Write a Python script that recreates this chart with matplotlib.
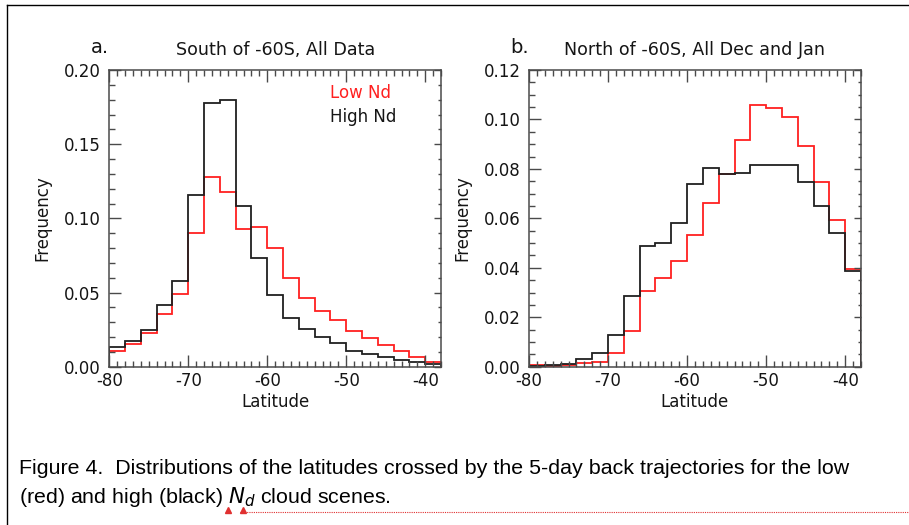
import numpy as np
import matplotlib
matplotlib.use("Agg")
import matplotlib.pyplot as plt
from matplotlib.ticker import MultipleLocator, FormatStrFormatter
from matplotlib.lines import Line2D
from matplotlib import font_manager

# ---------------- data ----------------
bin_edges = list(range(-80, -36, 2))   # 2-degree latitude bins, -80 .. -38

a_low_nd = [0.0108, 0.0153, 0.0225, 0.0356, 0.0491, 0.090, 0.128, 0.118, 0.0926, 0.0944,
            0.080, 0.0599, 0.0464, 0.0374, 0.0315, 0.0239, 0.0191, 0.0146, 0.0104, 0.0063, 0.0029]
a_high_nd = [0.0135, 0.0171, 0.0248, 0.0417, 0.0581, 0.116, 0.178, 0.180, 0.1086, 0.073,
             0.0484, 0.0329, 0.0255, 0.020, 0.0158, 0.0108, 0.0086, 0.0068, 0.0045, 0.0029, 0.0018]

b_low_nd = [0.0005, 0.0004, 0.0008, 0.0014, 0.0020, 0.0055, 0.0143, 0.0308, 0.0359, 0.0426,
            0.0531, 0.0661, 0.0778, 0.0915, 0.106, 0.1047, 0.1011, 0.0892, 0.0745, 0.0592, 0.0396]
b_high_nd = [0.0003, 0.0007, 0.0011, 0.0032, 0.0055, 0.013, 0.0284, 0.049, 0.0499, 0.058,
             0.0738, 0.0804, 0.078, 0.0785, 0.0814, 0.0816, 0.0814, 0.0745, 0.0649, 0.0539, 0.0389]

panel_letters = ["a.", "b."]
panel_titles = ["South of -60S, All Data", "North of -60S, All Dec and Jan"]
y_max = [0.20, 0.12]
y_major = [0.05, 0.02]
y_minor = [0.01, 0.005]
legend_labels = ["Low Nd", "High Nd"]
x_label = "Latitude"
y_label = "Frequency"
caption_1 = "Figure 4.  Distributions of the latitudes crossed by the 5-day back trajectories for the low"
caption_2 = r"(red) and high (black) $\mathit{N_d}$ cloud scenes."

# ---------------- style ----------------
W, H = 909, 525
fig = plt.figure(figsize=(W / 100, H / 100), dpi=100)
plt.rcParams['font.family'] = ['DejaVu Sans']

avail = {f.name for f in font_manager.fontManager.ttflist}
cap_font = 'Liberation Sans Narrow' if 'Liberation Sans Narrow' in avail else 'Liberation Sans'

spine_col = '#4a4a4a'
txt_col = '#151515'
fs = 12

def px2fig(x0, y0, x1, y1):
    return [x0 / W, 1 - y1 / H, (x1 - x0) / W, (y1 - y0) / H]

rects = [px2fig(109.3, 70, 441, 366.7), px2fig(529, 70, 861, 366.7)]
data = [(a_low_nd, a_high_nd), (b_low_nd, b_high_nd)]
ax_h = 296.7

for i, rect in enumerate(rects):
    ax = fig.add_axes(rect)
    low, high = data[i]
    ax.stairs(low, bin_edges, color='#ff2020', lw=1.3)
    ax.stairs(high, bin_edges, color='#202020', lw=1.3)
    ax.set_xlim(-80, -38)
    ax.set_ylim(0, y_max[i])
    ax.xaxis.set_major_locator(MultipleLocator(10))
    ax.xaxis.set_minor_locator(MultipleLocator(1))
    ax.yaxis.set_major_locator(MultipleLocator(y_major[i]))
    ax.yaxis.set_minor_locator(MultipleLocator(y_minor[i]))
    ax.yaxis.set_major_formatter(FormatStrFormatter('%.2f'))
    ax.xaxis.set_major_formatter(FormatStrFormatter('%d'))
    for s in ax.spines.values():
        s.set_color(spine_col)
        s.set_linewidth(1.1)
    ax.tick_params(which='both', direction='in', top=True, bottom=True, left=True, right=False,
                   color=spine_col, width=1.0, labelsize=fs, labelcolor=txt_col)
    ax.tick_params(which='major', length=8.6, pad=4)
    ax.tick_params(which='minor', length=4.6)
    ax.tick_params(axis='y', which='major', pad=6)
    ax.set_xlabel(x_label, fontsize=fs, labelpad=2, color=txt_col)
    ax.set_ylabel(y_label, fontsize=fs, labelpad=9, color=txt_col)
    # right side ticks (shorter)
    axr = ax.twinx()
    axr.set_ylim(0, y_max[i])
    axr.yaxis.set_major_locator(MultipleLocator(y_major[i]))
    axr.yaxis.set_minor_locator(MultipleLocator(y_minor[i]))
    axr.tick_params(which='both', direction='in', color=spine_col, width=1.0, labelright=False)
    axr.tick_params(which='major', length=4.8)
    axr.tick_params(which='minor', length=2.5)
    for s in axr.spines.values():
        s.set_visible(False)
    # titles
    ax.text(0.5, 1 + 20 / ax_h, panel_titles[i], transform=ax.transAxes, ha='center', va='center',
            fontsize=fs + 0.6, color=txt_col)
    ax.text(0.0, 1 + 22 / ax_h, panel_letters[i], transform=ax.transAxes, ha='right', va='center',
            fontsize=fs + 2, color=txt_col)
    if i == 0:
        ax.text(0.665, 1 - 23 / ax_h, legend_labels[0], transform=ax.transAxes, ha='left',
                va='center', fontsize=fs, color='#ff2020')
        ax.text(0.665, 1 - 47 / ax_h, legend_labels[1], transform=ax.transAxes, ha='left',
                va='center', fontsize=fs, color=txt_col)

# document frame lines
fig.add_artist(Line2D([6.5 / W, 1], [1 - 5 / H, 1 - 5 / H], color='black', lw=1.0,
                      transform=fig.transFigure))
fig.add_artist(Line2D([6.5 / W, 6.5 / W], [0, 1 - 5 / H], color='black', lw=1.0,
                      transform=fig.transFigure))

# caption
cap_x = 19 / W
cap_fs = 15.4
fig.text(cap_x, 1 - 469 / H, caption_1, ha='left', va='center', fontsize=cap_fs,
         family=[cap_font, 'DejaVu Sans'], color='black')
fig.text(cap_x, 1 - 497 / H, caption_2, ha='left', va='center', fontsize=cap_fs,
         family=[cap_font, 'DejaVu Sans'], color='black')

# spell-check style squiggle
fig.add_artist(Line2D([240 / W, 1], [1 - 512 / H, 1 - 512 / H], color='#e03030', lw=0.8,
                      ls=(0, (1, 1)), transform=fig.transFigure))
fig.add_artist(Line2D([228 / W, 243 / W], [1 - 510 / H, 1 - 510 / H], color='#e03030', lw=0,
                      marker='^', markersize=4, transform=fig.transFigure))

fig.savefig('out.png', dpi=100)
